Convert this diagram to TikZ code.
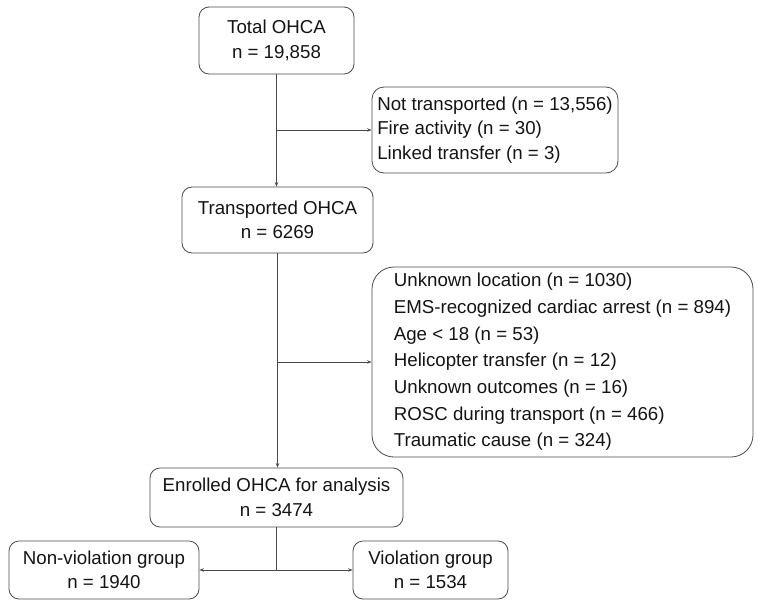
\documentclass[tikz,border=0pt]{standalone}
\usepackage{fontspec}
\setmainfont{Liberation Sans}
\usetikzlibrary{arrows.meta,positioning}
\definecolor{edge}{HTML}{4A4A4A}
\definecolor{ink}{HTML}{141414}

\begin{document}
\begin{tikzpicture}[
  x=1pt, y=-1pt,
  box/.style={draw=edge, line width=0.8pt, rounded corners=10pt, align=center, inner sep=0pt, text=ink, font=\fontsize{18.7}{24.5}\selectfont},
  excl/.style={box, align=left, rounded corners=12pt},
  arr/.style={-{Stealth[length=4.5pt,width=3.5pt]}, edge, line width=0.8pt}
]
\useasboundingbox (0,0) rectangle (758,606);

\node[box, minimum width=155pt, minimum height=67pt] (total) at (276.5,40.5) {Total OHCA\\n = 19,858};
\node[excl, minimum width=246pt, minimum height=86pt] (notrans) at (495,130) {Not transported (n = 13,556)\\Fire activity (n = 30)\\Linked transfer (n = 3)};
\node[box, minimum width=191pt, minimum height=66pt] (trans) at (277.5,220) {Transported OHCA\\n = 6269};
\node[excl, rounded corners=22pt, minimum width=381pt, minimum height=190pt, font=\fontsize{18.7}{26.7}\selectfont] (excl) at (562.5,362) {Unknown location (n = 1030)\\EMS-recognized cardiac arrest (n = 894)\\Age < 18 (n = 53)\\Helicopter transfer (n = 12)\\Unknown outcomes (n = 16)\\ROSC during transport (n = 466)\\Traumatic cause (n = 324)};
\node[box, minimum width=253pt, minimum height=59pt] (enrolled) at (276.5,497.5) {Enrolled OHCA for analysis\\n = 3474};
\node[box, minimum width=190pt, minimum height=58pt] (nonviol) at (104,570) {Non-violation group\\n = 1940};
\node[box, minimum width=155pt, minimum height=58pt] (viol) at (430.5,570) {Violation group\\n = 1534};

% main flow
\draw[arr] (total.south) -- (total.south |- trans.north);
\draw[arr] (trans.south) -- (trans.south |- enrolled.north);
\coordinate (b1) at (total.south |- notrans.west);
\coordinate (b2) at (trans.south |- excl.west);
\draw[arr] (b1) -- (notrans.west);
\draw[arr] (b2) -- (excl.west);

% split into groups
\coordinate (split) at (enrolled.south |- nonviol.east);
\draw[edge, line width=0.8pt] (enrolled.south) -- (split);
\draw[arr] (split) -- (nonviol.east);
\draw[arr] (split) -- (viol.west);
\end{tikzpicture}
\end{document}
